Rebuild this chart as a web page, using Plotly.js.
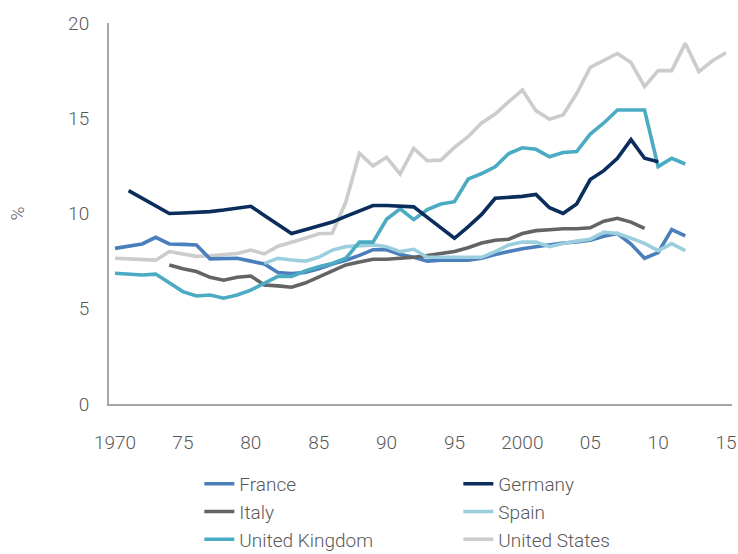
<!DOCTYPE html>
<html>
<head>
<meta charset="utf-8">
<script src="https://cdn.plot.ly/plotly-3.0.1.min.js"></script>
<style>html,body{margin:0;padding:0;background:#fff;}#chart{width:738px;height:554px;}</style>
</head>
<body>
<div id="chart"></div>
<script>
const years = [1970,1971,1972,1973,1974,1975,1976,1977,1978,1979,
  1980,1981,1982,1983,1984,1985,1986,1987,1988,1989,
  1990,1991,1992,1993,1994,1995,1996,1997,1998,1999,
  2000,2001,2002,2003,2004,2005,2006,2007,2008,2009,
  2010,2011,2012,2013,2014,2015];

const france = [8.17,8.3,8.4,8.75,8.4,8.38,8.35,7.62,7.62,7.65,
  7.5,7.35,6.9,6.85,6.9,7.1,7.35,7.55,7.8,8.1,
  8.1,7.85,7.7,7.5,7.55,7.55,7.55,7.65,7.85,8.0,
  8.15,8.25,8.35,8.45,8.5,8.6,8.8,8.95,8.4,7.65,
  7.95,9.15,8.82,null,null,null];

const germany = [null,11.2,10.8,10.4,10.0,10.03,10.06,10.1,10.18,10.27,
  10.38,9.9,9.4,8.95,9.15,9.35,9.55,9.85,10.15,10.42,
  10.42,10.4,10.35,9.8,9.25,8.7,9.3,9.95,10.8,10.85,
  10.9,11.0,10.3,10.0,10.5,11.78,12.25,12.9,13.88,12.9,
  12.72,null,null,null,null,null];

const italy = [null,null,null,null,7.3,7.1,6.95,6.65,6.5,6.65,
  6.72,6.25,6.2,6.13,6.35,6.65,6.98,7.3,7.45,7.6,
  7.6,7.65,7.7,7.8,7.9,8.0,8.2,8.45,8.6,8.65,
  8.95,9.1,9.15,9.2,9.2,9.25,9.6,9.75,9.55,9.22,
  null,null,null,null,null,null];

const spain = [null,null,null,null,null,null,null,null,null,null,
  null,7.38,7.65,7.56,7.5,7.7,8.08,8.26,8.29,8.35,
  8.26,8.0,8.12,7.7,7.7,7.7,7.7,7.7,8.0,8.35,
  8.5,8.5,8.26,8.43,8.55,8.65,9.02,8.95,8.7,8.43,
  8.05,8.42,8.05,null,null,null];

const uk = [6.86,6.83,6.77,6.82,6.35,5.9,5.67,5.72,5.55,5.72,
  5.98,6.33,6.7,6.7,6.98,7.2,7.38,7.65,8.5,8.5,
  9.7,10.25,9.68,10.2,10.5,10.62,11.8,12.1,12.45,13.15,
  13.45,13.37,12.98,13.2,13.25,14.17,14.75,15.43,15.43,15.43,
  12.46,12.9,12.6,null,null,null];

const us = [7.65,7.62,7.6,7.55,8.0,7.88,7.75,7.78,7.82,7.9,
  8.08,7.88,8.28,8.47,8.7,8.94,8.96,10.6,13.16,12.5,
  12.95,12.07,13.42,12.77,12.8,13.47,14.03,14.75,15.22,15.87,
  16.48,15.4,14.95,15.17,16.3,17.67,18.06,18.4,17.92,16.66,
  17.5,17.5,18.93,17.45,18.02,18.44];

const xTickVals = [1970,1975,1980,1985,1990,1995,2000,2005,2010,2015];
const xTickText = ['1970','75','80','85','90','95','2000','05','10','15'];
const yTickVals = [0,5,10,15,20];

const seriesNames = ['France','Germany','Italy','Spain','United Kingdom','United States'];
const seriesData = [france, germany, italy, spain, uk, us];
const seriesColors = ['#4a7fbb','#0b2d5c','#646464','#9ccfdd','#4babc3','#cccccc'];
const drawOrder = [5,0,2,3,4,1];

const traces = drawOrder.map(i => ({
  type: 'scatter',
  mode: 'lines',
  name: seriesNames[i],
  x: years,
  y: seriesData[i],
  connectgaps: false,
  legendrank: i + 1,
  line: {color: seriesColors[i], width: 3.6},
  hoverinfo: 'skip'
}));

const layout = {
  width: 738,
  height: 554,
  margin: {l: 109, r: 6, t: 23, b: 150, autoexpand: false},
  paper_bgcolor: '#ffffff',
  plot_bgcolor: '#ffffff',
  font: {family: 'Roboto, "Liberation Sans", sans-serif', size: 19, color: '#595959', weight: 300},
  showlegend: true,
  xaxis: {
    range: [1969.558, 2015.44],
    tickvals: xTickVals,
    ticktext: xTickText,
    ticks: '',
    showgrid: false,
    zeroline: false,
    showline: true,
    linecolor: '#a6a6a6',
    linewidth: 2,
    ticklabelstandoff: 20,
    fixedrange: true
  },
  yaxis: {
    range: [0, 20],
    tickvals: yTickVals,
    ticks: '',
    showgrid: false,
    zeroline: false,
    showline: true,
    linecolor: '#a6a6a6',
    linewidth: 2,
    ticklabelstandoff: 14,
    title: {text: '%', standoff: 38, font: {size: 19, color: '#595959'}},
    fixedrange: true
  },
  legend: {
    orientation: 'h',
    x: 0.145,
    xanchor: 'left',
    y: -0.16,
    yanchor: 'top',
    entrywidth: 214,
    entrywidthmode: 'pixels',
    traceorder: 'normal',
    font: {size: 19, color: '#595959'},
    bgcolor: 'rgba(0,0,0,0)',
    itemwidth: 30
  }
};

Plotly.newPlot('chart', traces, layout, {displayModeBar: false, staticPlot: true});
</script>
</body>
</html>
